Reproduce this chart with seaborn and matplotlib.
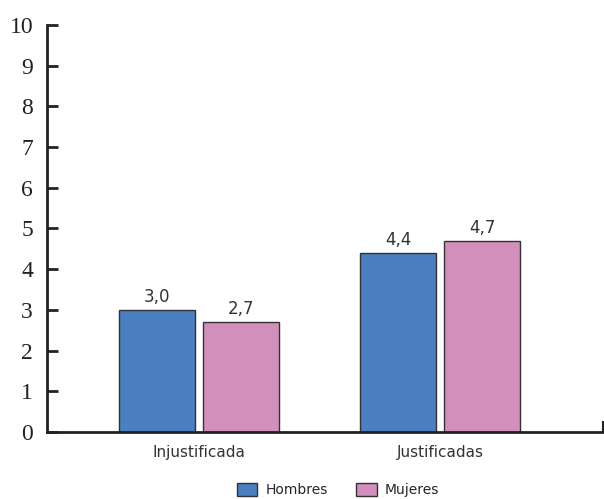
import matplotlib
matplotlib.use("Agg")
import matplotlib.pyplot as plt
import seaborn as sns
import pandas as pd
from matplotlib.patches import Patch

# Data
categorias = ["Injustificada", "Justificadas"]
sexos = ["Hombres", "Mujeres"]
hombres = [3.0, 4.4]
mujeres = [2.7, 4.7]
colores = ["#4A7FC1", "#D28FBC"]
yticks = list(range(0, 11))

df = pd.DataFrame({
    "categoria": categorias * 2,
    "sexo": [sexos[0]] * len(categorias) + [sexos[1]] * len(categorias),
    "valor": hombres + mujeres,
})

sns.set_style("white")
plt.rcParams["font.family"] = ["DejaVu Sans"]

fig = plt.figure(figsize=(6.04, 4.99), dpi=100)
ax = fig.add_axes([47 / 604, 1 - 432 / 499, (603 - 47) / 604, (432 - 25) / 499])

sns.barplot(data=df, x="categoria", y="valor", hue="sexo", order=categorias,
            hue_order=sexos, palette=colores, width=0.697, gap=0.095,
            edgecolor="#333333", linewidth=1.0, saturation=1, ax=ax,
            legend=False)

# value labels with decimal comma
for cont in ax.containers:
    labels = [f"{b.get_height():.1f}".replace(".", ",") for b in cont]
    ax.bar_label(cont, labels=labels, padding=3, fontsize=12, color="#333333")

x_left, x_right = -0.631, 1.674
ax.set_xlim(x_left, x_right)
ax.set_ylim(0, 10)
ax.set_yticks(yticks)
ax.set_yticklabels([str(t) for t in yticks])
ax.set_xlabel("")
ax.set_ylabel("")

for side in ["top", "right"]:
    ax.spines[side].set_visible(False)
for side in ["left", "bottom"]:
    ax.spines[side].set_linewidth(2.0)
    ax.spines[side].set_color("#222222")

ax.tick_params(axis="y", direction="in", length=8, width=2, color="#222222",
               left=True, pad=10)
ax.tick_params(axis="x", length=0, pad=9, labelsize=11, labelcolor="#333333")
ax.set_xticks([x_right], minor=True)
ax.tick_params(axis="x", which="minor", direction="in", length=8, width=1.5,
               color="#222222", bottom=True)

for lbl in ax.get_yticklabels():
    lbl.set_fontfamily("Liberation Serif")
    lbl.set_fontsize(17)
    lbl.set_color("#222222")

handles = [Patch(facecolor=c, edgecolor="#333333", linewidth=1.0, label=s)
           for c, s in zip(colores, sexos)]
fig.legend(handles=handles, loc="center", bbox_to_anchor=(338 / 604, 0.018),
           ncol=2, frameon=False, fontsize=10, handlelength=1.5,
           handleheight=1.1, columnspacing=2.0, handletextpad=0.6)

fig.savefig("out.png", dpi=100)
